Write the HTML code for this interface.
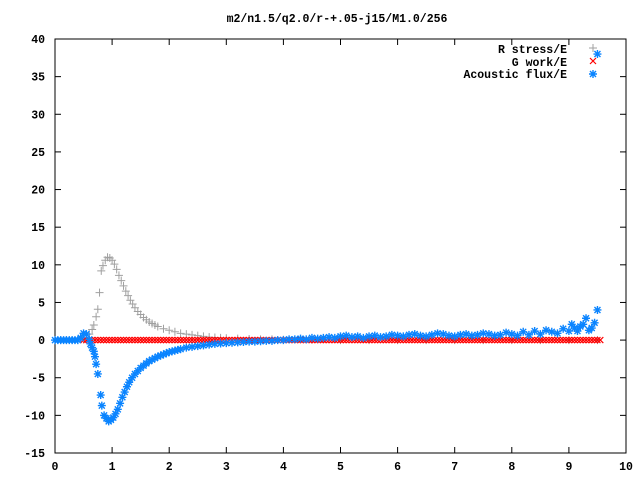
<!DOCTYPE html>
<html><head><meta charset="utf-8"><style>
body{margin:0;background:#fff;}
svg text{font-family:"Liberation Mono","DejaVu Sans Mono",monospace;font-size:11.5px;font-weight:bold;fill:#000;}
</style></head><body>
<svg id="chart" width="640" height="480" viewBox="0 0 640 480" xmlns="http://www.w3.org/2000/svg">
<rect x="0" y="0" width="640" height="480" fill="#fff"/>
<text x="337" y="22" text-anchor="middle">m2/n1.5/q2.0/r-+.05-j15/M1.0/256</text>
<g id="axes"></g>
<g id="series"></g>
<g id="legend">
<text x="567" y="53" text-anchor="end">R stress/E</text>
<text x="567" y="66" text-anchor="end">G work/E</text>
<text x="567" y="78" text-anchor="end">Acoustic flux/E</text>
</g>
</svg>
<script>
const xTicks=[0,1,2,3,4,5,6,7,8,9,10];
const yTicks=[-15,-10,-5,0,5,10,15,20,25,30,35,40];
const rStress=[[0,0],[0.1,0],[0.2,0],[0.3,0],[0.4,0],[0.5,0.1],[0.55,0.3],[0.6,0.8],[0.65,1.4],[0.68,2],[0.72,3.1],[0.75,4.1],[0.78,6.3],[0.81,9.2],[0.84,9.9],[0.88,10.6],[0.92,11],[0.96,10.9],[1.0,10.6],[1.04,10.1],[1.08,9.4],[1.12,8.6],[1.16,7.9],[1.2,7.2],[1.24,6.5],[1.28,5.9],[1.32,5.3],[1.36,4.8],[1.4,4.3],[1.45,3.8],[1.5,3.4],[1.55,3.0],[1.6,2.7],[1.65,2.4],[1.7,2.2],[1.75,2.0],[1.8,1.8],[1.9,1.5],[2.0,1.3],[2.1,1.1],[2.2,0.9],[2.3,0.8],[2.4,0.7],[2.5,0.6],[2.6,0.5],[2.7,0.4],[2.8,0.35],[2.9,0.3],[3.0,0.25],[3.2,0.2],[3.4,0.15],[3.6,0.1],[3.8,0.1],[4,0.05],[4.5,0.05],[5,0],[5.5,0],[6,0],[6.5,0],[7,0],[7.5,0],[8,0],[8.5,0],[9,0],[9.5,0]];
const gWork=[[0.5,0],[0.6,0],[0.7,0],[0.8,0],[0.9,0],[1.0,0],[1.1,0],[1.2,0],[1.3,0],[1.4,0],[1.5,0],[1.6,0],[1.7,0],[1.8,0],[1.9,0],[2.0,0],[2.1,0],[2.2,0],[2.3,0],[2.4,0],[2.5,0],[2.6,0],[2.7,0],[2.8,0],[2.9,0],[3.0,0],[3.1,0],[3.2,0],[3.3,0],[3.4,0],[3.5,0],[3.6,0],[3.7,0],[3.8,0],[3.9,0],[4.0,0],[4.1,0],[4.2,0],[4.3,0],[4.4,0],[4.5,0],[4.6,0],[4.7,0],[4.8,0],[4.9,0],[5.0,0],[5.1,0],[5.2,0],[5.3,0],[5.4,0],[5.5,0],[5.6,0],[5.7,0],[5.8,0],[5.9,0],[6.0,0],[6.1,0],[6.2,0],[6.3,0],[6.4,0],[6.5,0],[6.6,0],[6.7,0],[6.8,0],[6.9,0],[7.0,0],[7.1,0],[7.2,0],[7.3,0],[7.4,0],[7.5,0],[7.6,0],[7.7,0],[7.8,0],[7.9,0],[8.0,0],[8.1,0],[8.2,0],[8.3,0],[8.4,0],[8.5,0],[8.6,0],[8.7,0],[8.8,0],[8.9,0],[9.0,0],[9.1,0],[9.2,0],[9.3,0],[9.4,0],[9.5,0]];
const acoustic=[[0,0],[0.05,0],[0.1,0],[0.15,0],[0.2,0],[0.25,0],[0.3,0],[0.35,0],[0.4,0],[0.45,0.3],[0.5,0.9],[0.55,0.8],[0.6,0.1],[0.62,-0.5],[0.65,-1],[0.68,-1.5],[0.7,-2.2],[0.72,-3.2],[0.75,-4.5],[0.8,-7.3],[0.82,-8.7],[0.86,-10],[0.9,-10.4],[0.94,-10.8],[0.98,-10.6],[1.02,-10.3],[1.06,-9.8],[1.1,-9.2],[1.14,-8.4],[1.18,-7.6],[1.22,-6.9],[1.26,-6.2],[1.3,-5.6],[1.35,-5],[1.4,-4.5],[1.45,-4.1],[1.5,-3.7],[1.55,-3.4],[1.6,-3.1],[1.65,-2.8],[1.7,-2.6],[1.75,-2.4],[1.8,-2.2],[1.85,-2.05],[1.9,-1.9],[1.95,-1.75],[2,-1.6],[2.05,-1.5],[2.1,-1.4],[2.15,-1.3],[2.2,-1.2],[2.3,-1.0],[2.4,-0.9],[2.5,-0.8],[2.6,-0.7],[2.7,-0.6],[2.8,-0.5],[2.9,-0.45],[3,-0.4],[3.1,-0.35],[3.2,-0.3],[3.3,-0.25],[3.4,-0.2],[3.5,-0.2],[3.6,-0.15],[3.7,-0.1],[3.8,-0.1],[3.9,0],[4,0],[4.1,0.1],[4.2,0.1],[4.3,0.2],[4.4,0.1],[4.5,0.3],[4.6,0.2],[4.7,0.3],[4.8,0.4],[4.9,0.3],[5,0.5],[5.1,0.6],[5.2,0.4],[5.3,0.5],[5.4,0.3],[5.5,0.5],[5.6,0.6],[5.7,0.4],[5.8,0.5],[5.9,0.7],[6,0.6],[6.1,0.5],[6.2,0.7],[6.3,0.8],[6.4,0.6],[6.5,0.5],[6.6,0.7],[6.7,0.9],[6.8,0.8],[6.9,0.6],[7,0.5],[7.1,0.7],[7.2,0.8],[7.3,0.6],[7.4,0.7],[7.5,0.9],[7.6,0.8],[7.7,0.6],[7.8,0.7],[7.9,1.0],[8,0.8],[8.1,0.6],[8.2,1.1],[8.3,0.7],[8.4,1.2],[8.5,0.8],[8.6,1.3],[8.7,1.1],[8.8,0.9],[8.9,1.5],[9,1.2],[9.05,2.1],[9.1,1.6],[9.15,1.2],[9.2,1.8],[9.25,2.1],[9.3,2.9],[9.35,1.3],[9.4,1.6],[9.45,2.3],[9.5,4.0],[9.5,38]];
const NS="http://www.w3.org/2000/svg";
const L=55,R=626,T=39,B=453;
function sx(v){return L+(v-0)/(10-0)*(R-L);}
function sy(v){return B-(v-(-15))/(40-(-15))*(B-T);}
function mk(tag,attrs,parent){const e=document.createElementNS(NS,tag);for(const k in attrs)e.setAttribute(k,attrs[k]);parent.appendChild(e);return e;}
const axes=document.getElementById('axes');
const frame=mk('rect',{x:L,y:T,width:R-L,height:B-T,fill:'none',stroke:'#000','stroke-width':1},axes);


xTicks.forEach(t=>{const x=sx(t);
 mk('line',{x1:x,y1:B,x2:x,y2:B-6,stroke:'#000'},axes);
 mk('line',{x1:x,y1:T,x2:x,y2:T+6,stroke:'#000'},axes);
 const tx=mk('text',{x:x,y:B+17,'text-anchor':'middle'},axes);tx.textContent=t;
 
 
});
yTicks.forEach(t=>{const y=sy(t);
 mk('line',{x1:L,y1:y,x2:L+6,y2:y,stroke:'#000'},axes);
 mk('line',{x1:R,y1:y,x2:R-6,y2:y,stroke:'#000'},axes);
 const tx=mk('text',{x:L-10,y:y+4,'text-anchor':'end'},axes);tx.textContent=t;
 
 
});
const g=document.getElementById('series');
function plus(x,y,c,p){mk('path',{d:`M${x-4},${y}h8M${x},${y-4}v8`,stroke:c,'stroke-width':1,fill:'none'},p);}
function cross(x,y,c,p){mk('path',{d:`M${x-3},${y-3}l6,6M${x-3},${y+3}l6,-6`,stroke:c,'stroke-width':1.2,fill:'none'},p);}
function star(x,y,c,p){mk('path',{d:`M${x-4},${y}h8M${x},${y-4}v8M${x-3},${y-3}l6,6M${x-3},${y+3}l6,-6`,stroke:c,'stroke-width':1.4,fill:'none'},p);}
const gR=mk('g',{},g);
const gG=mk('g',{},g);
const gA=mk('g',{},g);
rStress.forEach(p=>plus(sx(p[0]),sy(p[1]),'#a0a0a0',gR));
gWork.forEach(p=>{cross(sx(p[0]),sy(p[1]),'#ff0000',gG);cross(sx(p[0]+0.05),sy(p[1]),'#ff0000',gG);});
acoustic.forEach(p=>star(sx(p[0]),sy(p[1]),'#0a84ff',gA));
const lg=document.getElementById('legend');
plus(593,48,'#a0a0a0',lg);cross(593,61,'#ff0000',lg);star(593,74,'#0a84ff',lg);
</script>
</body></html>
